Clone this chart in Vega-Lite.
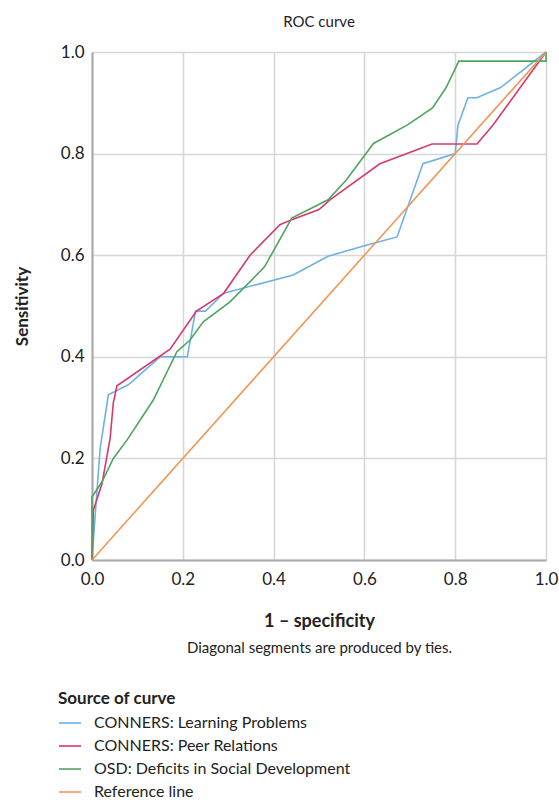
{
  "$schema": "https://vega.github.io/schema/vega-lite/v6.json",
  "width": 454,
  "height": 508,
  "autosize": {"type": "none"},
  "padding": {"left": 92, "top": 52, "right": 13, "bottom": 244},
  "background": "white",
  "config": {
    "font": "Lato",
    "view": {"stroke": null}
  },
  "title": {
    "text": "ROC curve",
    "fontSize": 15,
    "fontWeight": "normal",
    "color": "#222",
    "anchor": "middle",
    "offset": 13
  },
  "data": {
    "values": [
      {"curve": "CONNERS: Learning Problems", "ord": 1, "fpr": 0, "tpr": 0},
      {"curve": "CONNERS: Learning Problems", "ord": 2, "fpr": 0.008, "tpr": 0.1},
      {"curve": "CONNERS: Learning Problems", "ord": 3, "fpr": 0.018, "tpr": 0.22},
      {"curve": "CONNERS: Learning Problems", "ord": 4, "fpr": 0.036, "tpr": 0.325},
      {"curve": "CONNERS: Learning Problems", "ord": 5, "fpr": 0.08, "tpr": 0.345},
      {"curve": "CONNERS: Learning Problems", "ord": 6, "fpr": 0.15, "tpr": 0.4},
      {"curve": "CONNERS: Learning Problems", "ord": 7, "fpr": 0.21, "tpr": 0.4},
      {"curve": "CONNERS: Learning Problems", "ord": 8, "fpr": 0.228, "tpr": 0.49},
      {"curve": "CONNERS: Learning Problems", "ord": 9, "fpr": 0.25, "tpr": 0.49},
      {"curve": "CONNERS: Learning Problems", "ord": 10, "fpr": 0.29, "tpr": 0.525},
      {"curve": "CONNERS: Learning Problems", "ord": 11, "fpr": 0.443, "tpr": 0.561},
      {"curve": "CONNERS: Learning Problems", "ord": 12, "fpr": 0.52, "tpr": 0.598},
      {"curve": "CONNERS: Learning Problems", "ord": 13, "fpr": 0.606, "tpr": 0.62},
      {"curve": "CONNERS: Learning Problems", "ord": 14, "fpr": 0.672, "tpr": 0.636},
      {"curve": "CONNERS: Learning Problems", "ord": 15, "fpr": 0.729, "tpr": 0.78},
      {"curve": "CONNERS: Learning Problems", "ord": 16, "fpr": 0.8, "tpr": 0.8},
      {"curve": "CONNERS: Learning Problems", "ord": 17, "fpr": 0.806, "tpr": 0.856},
      {"curve": "CONNERS: Learning Problems", "ord": 18, "fpr": 0.828, "tpr": 0.91},
      {"curve": "CONNERS: Learning Problems", "ord": 19, "fpr": 0.848, "tpr": 0.91},
      {"curve": "CONNERS: Learning Problems", "ord": 20, "fpr": 0.9, "tpr": 0.93},
      {"curve": "CONNERS: Learning Problems", "ord": 21, "fpr": 1, "tpr": 1},

      {"curve": "CONNERS: Peer Relations", "ord": 1, "fpr": 0, "tpr": 0},
      {"curve": "CONNERS: Peer Relations", "ord": 2, "fpr": 0.003, "tpr": 0.098},
      {"curve": "CONNERS: Peer Relations", "ord": 3, "fpr": 0.022, "tpr": 0.15},
      {"curve": "CONNERS: Peer Relations", "ord": 4, "fpr": 0.04, "tpr": 0.24},
      {"curve": "CONNERS: Peer Relations", "ord": 5, "fpr": 0.047, "tpr": 0.31},
      {"curve": "CONNERS: Peer Relations", "ord": 6, "fpr": 0.055, "tpr": 0.343},
      {"curve": "CONNERS: Peer Relations", "ord": 7, "fpr": 0.172, "tpr": 0.415},
      {"curve": "CONNERS: Peer Relations", "ord": 8, "fpr": 0.23, "tpr": 0.49},
      {"curve": "CONNERS: Peer Relations", "ord": 9, "fpr": 0.29, "tpr": 0.525},
      {"curve": "CONNERS: Peer Relations", "ord": 10, "fpr": 0.348, "tpr": 0.6},
      {"curve": "CONNERS: Peer Relations", "ord": 11, "fpr": 0.414, "tpr": 0.66},
      {"curve": "CONNERS: Peer Relations", "ord": 12, "fpr": 0.44, "tpr": 0.67},
      {"curve": "CONNERS: Peer Relations", "ord": 13, "fpr": 0.5, "tpr": 0.69},
      {"curve": "CONNERS: Peer Relations", "ord": 14, "fpr": 0.524, "tpr": 0.709},
      {"curve": "CONNERS: Peer Relations", "ord": 15, "fpr": 0.634, "tpr": 0.78},
      {"curve": "CONNERS: Peer Relations", "ord": 16, "fpr": 0.749, "tpr": 0.819},
      {"curve": "CONNERS: Peer Relations", "ord": 17, "fpr": 0.848, "tpr": 0.819},
      {"curve": "CONNERS: Peer Relations", "ord": 18, "fpr": 0.883, "tpr": 0.856},
      {"curve": "CONNERS: Peer Relations", "ord": 19, "fpr": 1, "tpr": 1},

      {"curve": "OSD: Deficits in Social Development", "ord": 1, "fpr": 0, "tpr": 0},
      {"curve": "OSD: Deficits in Social Development", "ord": 2, "fpr": 0, "tpr": 0.124},
      {"curve": "OSD: Deficits in Social Development", "ord": 3, "fpr": 0.022, "tpr": 0.154},
      {"curve": "OSD: Deficits in Social Development", "ord": 4, "fpr": 0.047, "tpr": 0.2},
      {"curve": "OSD: Deficits in Social Development", "ord": 5, "fpr": 0.077, "tpr": 0.236},
      {"curve": "OSD: Deficits in Social Development", "ord": 6, "fpr": 0.135, "tpr": 0.315},
      {"curve": "OSD: Deficits in Social Development", "ord": 7, "fpr": 0.187, "tpr": 0.41},
      {"curve": "OSD: Deficits in Social Development", "ord": 8, "fpr": 0.216, "tpr": 0.433},
      {"curve": "OSD: Deficits in Social Development", "ord": 9, "fpr": 0.245, "tpr": 0.469},
      {"curve": "OSD: Deficits in Social Development", "ord": 10, "fpr": 0.304, "tpr": 0.508},
      {"curve": "OSD: Deficits in Social Development", "ord": 11, "fpr": 0.38, "tpr": 0.577},
      {"curve": "OSD: Deficits in Social Development", "ord": 12, "fpr": 0.44, "tpr": 0.673},
      {"curve": "OSD: Deficits in Social Development", "ord": 13, "fpr": 0.52, "tpr": 0.709},
      {"curve": "OSD: Deficits in Social Development", "ord": 14, "fpr": 0.56, "tpr": 0.748},
      {"curve": "OSD: Deficits in Social Development", "ord": 15, "fpr": 0.62, "tpr": 0.82},
      {"curve": "OSD: Deficits in Social Development", "ord": 16, "fpr": 0.694, "tpr": 0.856},
      {"curve": "OSD: Deficits in Social Development", "ord": 17, "fpr": 0.75, "tpr": 0.89},
      {"curve": "OSD: Deficits in Social Development", "ord": 18, "fpr": 0.78, "tpr": 0.93},
      {"curve": "OSD: Deficits in Social Development", "ord": 19, "fpr": 0.808, "tpr": 0.982},
      {"curve": "OSD: Deficits in Social Development", "ord": 20, "fpr": 1, "tpr": 0.982},
      {"curve": "OSD: Deficits in Social Development", "ord": 21, "fpr": 1, "tpr": 1},

      {"curve": "Reference line", "ord": 1, "fpr": 0, "tpr": 0},
      {"curve": "Reference line", "ord": 2, "fpr": 1, "tpr": 1}
    ]
  },
  "resolve": {"axis": {"x": "independent"}},
  "layer": [
    {
      "transform": [{"filter": "datum.curve !== 'Reference line'"}],
      "mark": {"type": "line", "strokeWidth": 1.6, "clip": false},
      "encoding": {
        "x": {
          "field": "fpr", "type": "quantitative",
          "scale": {"domain": [0, 1], "nice": false, "zero": false},
          "axis": {
            "orient": "bottom",
            "values": [0, 0.2, 0.4, 0.6, 0.8, 1],
            "format": ".1f",
            "title": "1 – specificity",
            "titleFontSize": 18,
            "titleFontWeight": "bold",
            "titleColor": "#222",
            "titlePadding": 25,
            "labelFontSize": 17,
            "labelColor": "#222",
            "labelPadding": 11,
            "labelFlush": false,
            "ticks": false,
            "domainColor": "#a8a8a8",
            "domainWidth": 2,
            "gridColor": "#d6d6d6",
            "gridWidth": 1.6
          }
        },
        "y": {
          "field": "tpr", "type": "quantitative",
          "scale": {"domain": [0, 1], "nice": false, "zero": false},
          "axis": {
            "values": [0, 0.2, 0.4, 0.6, 0.8, 1],
            "format": ".1f",
            "title": "Sensitivity",
            "titleFontSize": 17,
            "titleFontWeight": "bold",
            "titleColor": "#222",
            "titlePadding": 29,
            "labelFontSize": 17,
            "labelColor": "#222",
            "labelPadding": 8,
            "labelFlush": false,
            "ticks": false,
            "domainColor": "#a8a8a8",
            "domainWidth": 2,
            "gridColor": "#d6d6d6",
            "gridWidth": 1.6
          }
        },
        "order": {"field": "ord", "type": "quantitative"},
        "color": {
          "field": "curve", "type": "nominal",
          "scale": {
            "domain": ["CONNERS: Learning Problems", "CONNERS: Peer Relations", "OSD: Deficits in Social Development", "Reference line"],
            "range": ["#6db2e4", "#d8386f", "#4fa45e", "#f29658"]
          },
          "legend": {
            "orient": "none",
            "legendX": -34,
            "legendY": 639,
            "title": "Source of curve",
            "titleFontSize": 17,
            "titleFontWeight": "bold",
            "titleColor": "#222",
            "titlePadding": 3,
            "labelFontSize": 16,
            "labelColor": "#222",
            "labelOffset": 12,
            "labelLimit": 500,
            "symbolType": "stroke",
            "symbolStrokeWidth": 1.6,
            "symbolSize": 484,
            "rowPadding": 3
          }
        }
      }
    },
    {
      "transform": [{"filter": "datum.curve === 'Reference line'"}],
      "mark": {"type": "line", "strokeWidth": 1.6, "clip": false},
      "encoding": {
        "x": {
          "field": "fpr", "type": "quantitative",
          "scale": {"domain": [0, 1], "nice": false, "zero": false},
          "axis": {
            "orient": "bottom",
            "title": "Diagonal segments are produced by ties.",
            "titleFontSize": 15,
            "titleFontWeight": "normal",
            "titleColor": "#222",
            "titlePadding": 80,
            "labels": false,
            "ticks": false,
            "domain": false,
            "grid": false
          }
        },
        "y": {"field": "tpr", "type": "quantitative"},
        "order": {"field": "ord", "type": "quantitative"},
        "color": {"field": "curve", "type": "nominal"}
      }
    }
  ]
}
